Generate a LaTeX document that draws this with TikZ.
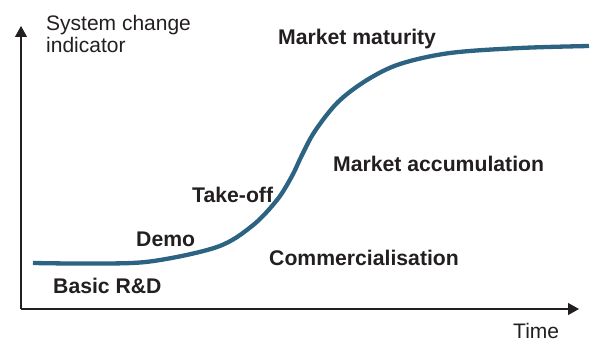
\documentclass[tikz,border=0pt]{standalone}
\usepackage{fontspec}
\setmainfont{Liberation Sans}
\usetikzlibrary{arrows.meta}
\definecolor{curveblue}{RGB}{44,98,130}
\definecolor{txt}{RGB}{35,31,32}
\begin{document}
\begin{tikzpicture}[x=1pt,y=-1pt,
  axis/.style={line width=1.1pt, draw=txt, -{Triangle[length=11pt,width=12pt]}},
  stage/.style={anchor=base west, inner sep=0pt, font=\fontsize{21.2}{25}\selectfont\bfseries, text=txt},
  axlabel/.style={anchor=base west, inner sep=0pt, font=\fontsize{21}{22}\selectfont, text=txt}]
\useasboundingbox (0,0) rectangle (590,342);
\coordinate (o) at (21,309);
\coordinate (ytip) at (21,26);
\coordinate (xtip) at (579,309);
\draw[axis] (o) -- (ytip);
\draw[axis] (o) -- (xtip);
\node[axlabel] (ylab1) at (46,31) {System change};
\node[axlabel] (ylab2) at (46,53) {indicator};
\node[axlabel] (xlab) at (513,338) {Time};
\draw[curveblue, line width=4.3pt] plot[smooth, tension=0.55] coordinates {
 (33,263) (90,263.5) (150,261.5) (217,247) (252,226) (277,200) (292,176) (302,155) (315,131) (338,102) (367,80) (400,64) (450,53) (520,48) (589,46)};
\node[stage] (mm) at (278,45) {Market maturity};
\node[stage] (ma) at (333,172) {Market accumulation};
\node[stage] (to) at (192,203) {Take-off};
\node[stage] (demo) at (136,247) {Demo};
\node[stage] (comm) at (269,266) {Commercialisation};
\node[stage] (brd) at (53,294) {Basic R\&D};
\end{tikzpicture}
\end{document}
